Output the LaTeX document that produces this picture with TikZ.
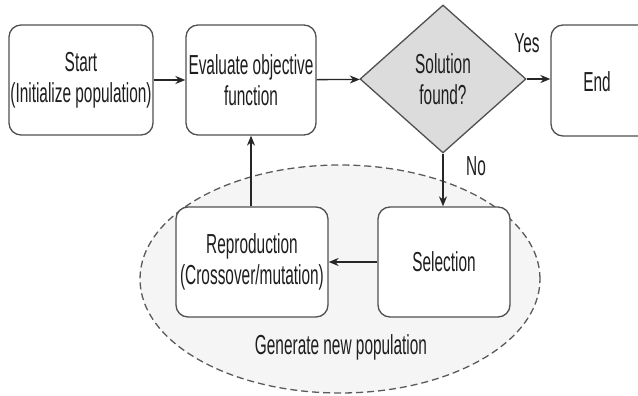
\documentclass[tikz,border=0pt]{standalone}
\usepackage{fontspec}
\setmainfont[FakeStretch=0.56]{Liberation Sans}
\usetikzlibrary{shapes.geometric,arrows.meta}
\definecolor{edgegray}{HTML}{505050}
\definecolor{txtgray}{HTML}{1E1E1E}
\definecolor{diafill}{HTML}{DCDCDC}
\definecolor{ellfill}{HTML}{F5F5F5}
\definecolor{dashgray}{HTML}{5A5A5A}
\tikzset{
  box/.style={draw=edgegray, line width=1.3pt, rounded corners=12pt, fill=white,
    align=center, text=txtgray, inner sep=0pt,
    font={\fontsize{27.5}{31}\selectfont}},
  dec/.style={draw=edgegray, line width=1.3pt, diamond, fill=diafill, inner sep=0pt,
    align=center, text=txtgray, font={\fontsize{27.5}{31}\selectfont}},
  lbl/.style={text=txtgray, inner sep=0pt, font={\fontsize{27.5}{31}\selectfont}},
  flow/.style={draw=black!85, line width=1.3pt, -{Stealth[length=10pt,width=8pt]}},
}
\begin{document}
\begin{tikzpicture}[x=1pt,y=-1pt]
\useasboundingbox (0,0) rectangle (638,396);
\clip (0,0) rectangle (638,396);
\fill[white] (0,0) rectangle (638,396);
% ellipse background
\node[ellipse, draw=dashgray, dashed, dash pattern=on 7pt off 4pt, line width=1.3pt,
  fill=ellfill, minimum width=400pt, minimum height=228pt, inner sep=0pt] (ell) at (340,279) {};
\node[lbl] (gen) at (341,347) {Generate new population};
% boxes
\node[box, minimum width=144pt, minimum height=110pt] (start) at (81,80) {Start\\(Initialize population)};
\node[box, minimum width=130pt, minimum height=110pt] (eval) at (251,80) {Evaluate objective\\function};
\node[dec, minimum width=166pt, minimum height=148pt, aspect=1.12] (sol) at (443,79) {Solution\\found?};
\node[box, minimum width=100pt, minimum height=111pt] (end) at (601,80.5) {};
\node[lbl] (endt) at (597,82) {End};
\node[box, minimum width=152pt, minimum height=110pt] (rep) at (252,262) {Reproduction\\(Crossover/mutation)};
\node[box, minimum width=132pt, minimum height=110pt] (sel) at (444,262) {Selection};
% labels
\node[lbl] (yes) at (527,43) {Yes};
\node[lbl] (no) at (476,166) {No};
% connectors
\draw[flow] (start) -- (eval);
\draw[flow] (eval) -- (sol);
\draw[flow] (sol.east) -- (end.west |- sol.east);
\draw[flow] (sol.south) -- (sol.south |- sel.north);
\draw[flow] (sel) -- (rep);
\draw[flow] (eval.south |- rep.north) -- (eval.south);
\end{tikzpicture}
\end{document}
